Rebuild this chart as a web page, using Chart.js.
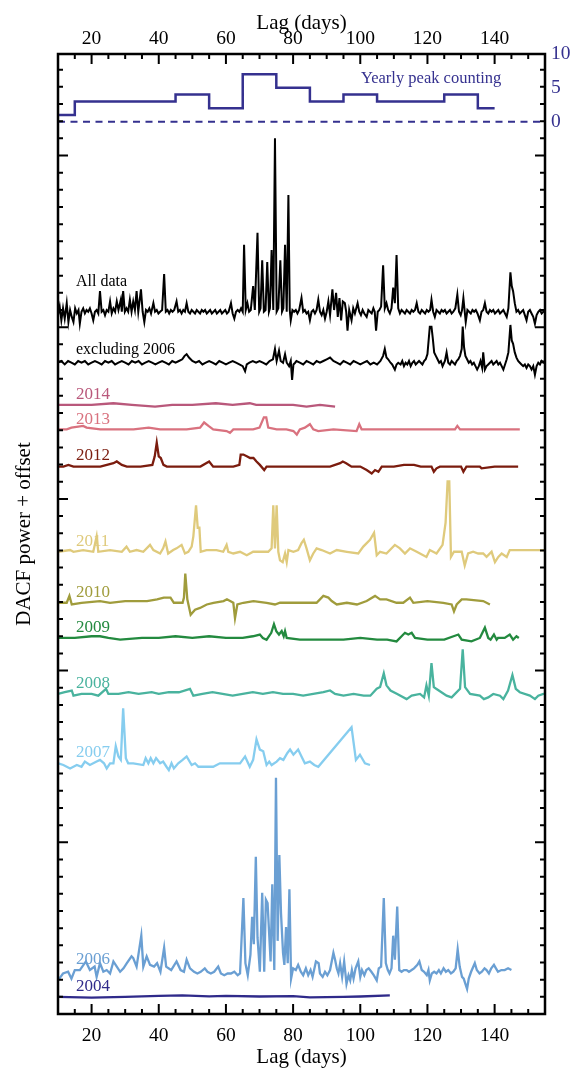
<!DOCTYPE html>
<html lang="en">
<head>
<meta charset="UTF-8">
<title>DACF power + offset</title>
<script src="https://cdn.jsdelivr.net/npm/chart.js"></script>
<style>
    body { margin: 0; background: #fff; }
    #wrap { width: 581px; height: 1080px; }
</style>
</head>
<body>
<div id="wrap"><canvas id="dacf" width="581" height="1080"></canvas></div>
<script>
// x axis ticks (lag in days)
const lagTicks = [20, 40, 60, 80, 100, 120, 140];
const countTicks = [0, 5, 10];

// yearly peak counting: bin edges and counts
const peakEdges = [10, 15, 45, 55, 65, 75, 85, 95, 105, 125, 135, 140];
const peakCounts = [1, 3, 4, 2, 7, 5, 3, 4, 3, 4, 2];

// DACF power curves, [lag, power in hundredths]
const powAll = [[10,-2],[10.5,3],[11,-5],[11.5,2],[12,-4],[12.6,5],[13.1,-6],[13.6,1],[14.1,-3],[14.6,-6],[15.1,2],[15.6,-1],[16.1,1],[16.5,-7],[17,0],[17.5,2],[18,-1],[18.5,1],[19,0],[19.5,2],[20,-1],[20.5,-5],[21,0],[21.5,1],[22,-1],[22.5,12],[23,0],[23.5,1],[24,-2],[24.5,1],[25,0],[25.5,6],[26,-1],[26.5,2],[27,0],[27.5,6],[28,1],[28.7,7],[29,0],[29.4,12],[29.9,0],[30.4,2],[30.9,0],[31.4,7],[31.9,0],[32.4,6],[32.9,1],[33.4,12],[33.9,0],[34.7,13],[35.2,0],[35.7,-6],[36.2,1],[36.7,0],[37.2,2],[37.7,-1],[38.4,5],[38.9,0],[39.4,1],[39.9,-1],[40.4,0],[41,1],[41.6,22],[42.1,0],[42.6,1],[43.1,-1],[43.6,1],[44.1,0],[44.6,1],[45.3,6],[45.8,0],[46.3,1],[46.8,-1],[47.3,1],[47.8,0],[48.3,5],[48.8,0],[49.3,-1],[49.8,1],[50.3,0],[50.8,-1],[51.3,1],[51.8,0],[52.3,-1],[52.8,1],[53.3,0],[53.8,1],[54.3,-1],[54.8,0],[55.3,1],[55.8,-1],[56.3,0],[56.8,1],[57.3,-1],[57.8,0],[58.3,1],[58.8,-1],[59.3,0],[59.8,1],[60.3,-1],[60.8,0],[61.5,5],[62,-1],[62.5,-4],[63,0],[63.5,1],[64,0],[64.5,2],[65,0],[65.4,39],[65.9,1],[66.4,5],[66.9,0],[67.4,1],[68.1,15],[68.6,1],[69.4,46],[69.9,0],[70.3,2],[70.8,30],[71.3,0],[71.8,1],[72.3,29],[72.8,0],[73.1,2],[73.6,36],[74.1,1],[74.6,101],[75.1,0],[75.6,2],[76.2,30],[76.7,0],[77.1,2],[77.6,39],[78.1,0],[78.6,68],[79,1],[79.3,-5],[79.8,1],[80.3,0],[80.8,1],[81.3,-1],[81.8,1],[82.5,8],[83,0],[83.5,1],[84,-1],[84.5,0],[85,-5],[85.5,0],[86,1],[86.5,-1],[87,1],[87.5,7],[88,0],[88.5,-2],[89,1],[89.5,-4],[90,0],[90.5,6],[91,-2],[91.7,13],[92.2,1],[92.8,11],[93.3,-3],[93.8,8],[94.3,-5],[94.8,6],[95.4,5],[95.8,0],[96.2,-11],[96.7,1],[97.4,-5],[97.9,2],[98.4,-1],[99.2,5],[99.7,0],[100.2,-2],[100.7,1],[101.2,-1],[101.9,-3],[102.4,1],[102.9,0],[103.4,-1],[103.9,2],[104.3,0],[104.7,-11],[105.2,0],[105.7,1],[106.2,3],[106.8,27],[107.3,2],[107.8,5],[108.3,1],[108.8,-1],[109.3,2],[109.8,14],[110.3,5],[110.8,33],[111.3,2],[111.8,-1],[112.3,1],[112.8,0],[113.3,-1],[113.8,1],[114.3,0],[114.8,-1],[115.3,1],[115.8,0],[116.3,1],[116.8,5],[117.3,0],[117.8,-1],[118.3,1],[118.8,0],[119.3,-1],[119.8,1],[120.3,0],[120.8,1],[121.2,7],[121.7,0],[122.2,-3],[122.7,1],[123.2,0],[123.7,-1],[124.2,1],[124.7,0],[125.2,1],[125.7,-1],[126.2,0],[126.7,1],[127.2,-1],[127.7,0],[128.3,2],[128.9,10],[129.4,0],[129.9,-2],[130.3,1],[130.7,8],[131.1,0],[131.4,-6],[131.9,1],[132.4,0],[132.9,-1],[133.4,1],[133.9,0],[134.4,1],[134.9,-1],[135.6,-5],[136.1,0],[136.6,1],[137.1,5],[137.6,0],[138.1,-1],[138.6,1],[139.1,0],[139.6,1],[140.1,-1],[140.6,0],[141.1,1],[141.6,-1],[142.1,0],[142.6,1],[143.1,-1],[143.6,-3],[144.1,2],[144.7,23],[145.1,15],[145.5,12],[146,5],[146.5,0],[147,1],[147.5,-1],[148,0],[148.5,1],[149,-2],[149.5,-5],[150,0],[150.5,1],[151,-1],[151.5,-3],[152,-7],[152.5,-2],[153,0],[153.5,1],[154,-1],[154.5,0],[155,0]];
const powExcl = [[10,0],[11,1],[12,-1],[13,1],[14,0],[15,-1],[16,1],[17,0],[18,1],[19,-1],[20,0],[21,1],[22,0],[23,-1],[24,1],[25,0],[26,1],[27,-1],[28,0],[29,1],[30,0],[31,-1],[32,1],[33,0],[34,1],[35,-1],[36,0],[37,1],[38,0],[39,-1],[40,0],[41,1],[42,0],[43,-1],[44,1],[45,0],[46,1],[47,2],[47.7,4],[48.3,5],[49,3],[49.5,2],[50,1],[51,0],[52,1],[53,-1],[54,0],[55,1],[56,0],[57,-1],[58,1],[59,0],[60,-1],[61,0],[62,1],[63,0],[64,-1],[65,-2],[65.7,-5],[66.2,-1],[67,0],[68,1],[69,0],[70,1],[71,0],[72,-1],[73,1],[74,2],[74.6,8],[75.1,1],[75.8,7],[76.3,1],[77,0],[77.6,5],[78.1,0],[78.8,-2],[79.3,1],[79.7,-10],[80.1,-1],[80.6,0],[81,1],[82,0],[83,-1],[84,1],[85,0],[86,-1],[87,1],[88,0],[89,1],[90,2],[91,3],[92,1],[93,0],[94,-1],[95,1],[96,0],[97,-1],[98,1],[99,0],[100,-1],[101,0],[102,1],[103,-1],[104,0],[105,-1],[106,1],[106.8,4],[107.3,8],[107.8,3],[108.3,2],[109,0],[109.5,-1],[110.3,-4],[110.8,-1],[111.3,0],[112,-1],[112.5,1],[113,-2],[113.5,0],[114,-1],[114.5,1],[115,-2],[115.5,0],[116,1],[116.5,-1],[117,0],[117.5,1],[118,0],[118.5,-1],[119,1],[119.5,2],[120,5],[120.7,21],[121.2,21],[121.6,14],[122,6],[122.5,4],[123,2],[123.5,0],[124,1],[124.5,-2],[125.2,1],[125.7,6],[126.2,0],[126.7,-1],[127.2,1],[127.7,0],[128.2,-1],[128.7,1],[129.2,2],[129.7,4],[130.2,8],[130.5,21],[130.9,9],[131.3,4],[131.8,2],[132.3,0],[132.8,1],[133.3,-1],[133.8,0],[134.3,-2],[134.8,-4],[135.3,-2],[135.8,1],[136.3,-3],[136.6,6],[137.1,-4],[137.6,-2],[138.1,-1],[138.6,0],[139.1,1],[139.6,-1],[140.1,0],[140.6,1],[141.1,-1],[141.6,0],[142.1,-2],[142.6,-4],[143.1,-1],[143.6,2],[144.1,6],[144.7,22],[145.1,13],[145.5,11],[146,6],[146.5,3],[147,1],[147.5,0],[148,-1],[148.5,-2],[149,-1],[149.5,-3],[150,-1],[150.5,-2],[151,-4],[151.5,-2],[152,-7],[152.5,-2],[153,0],[153.5,-1],[154,1],[154.5,0],[155,0]];
const pow2014 = [[10,0],[15,0],[20,0],[26.5,1],[32,0],[38.9,-1],[44,0],[50,0],[57,1],[62,0],[67.1,1],[69,0],[75,0],[80,0],[84,-1],[88,0],[92.5,-1]];
const pow2013 = [[10,0],[12.6,0],[14,1],[17.5,2],[18.5,1],[22.6,0],[27.5,0],[32.5,0],[37,1],[40.4,0],[44.4,0],[48.3,0],[52.3,1],[53.5,4],[54.8,2],[56.2,0],[60.2,-1],[61.2,-2],[62.2,0],[68.1,0],[70,1],[71.3,7],[72,7],[72.6,1],[75.1,0],[78,0],[80.1,-1],[81.1,-3],[82,0],[83.5,1],[85,3],[86,0],[87.5,-1],[92,0],[98.9,-1],[99.7,3],[100.4,0],[110,0],[120,0],[128.2,0],[128.9,2],[129.7,0],[140,0],[147.5,0]];
const pow2012 = [[10,0],[11.6,0],[13.1,1],[14.6,0],[18.6,0],[22.6,0],[26.5,2],[27.5,3],[29,1],[30.5,0],[34.6,0],[38.1,1],[38.8,6],[39.4,14],[40,6],[40.6,5],[41.4,1],[42.4,0],[47.4,0],[52.4,0],[55,3],[56.2,0],[62.2,0],[64,1],[64.4,7],[65.2,7],[66.2,6],[67.2,5],[68.2,5],[69.1,3],[70.1,1],[71.4,-2],[72.1,0],[77.1,0],[82,0],[86,0],[91,0],[94,2],[94.8,3],[95.8,2],[97.4,0],[100,0],[101.9,-2],[103.4,-4],[104.4,-2],[105.4,-3],[106.4,0],[108,0],[110,0],[113,1],[116,1],[118,0],[121.2,0],[121.9,-3],[122.7,-1],[123.7,0],[127.7,0],[130,0],[130.7,-3],[131.6,0],[135.6,0],[136.1,-1],[140,0],[147,0]];
const pow2011 = [[10,0],[13.6,1],[14.6,0],[17.5,1],[20.5,0],[21.5,9],[22,0],[25.5,1],[29,0],[30.4,3],[31.4,0],[33.4,1],[35.4,0],[37.4,4],[38.4,1],[40.4,-1],[41.3,2],[42,6],[42.8,-1],[44.3,1],[45.3,2],[46.8,4],[47.8,-1],[48.8,0],[49.8,3],[50.3,9],[51.1,27],[51.6,14],[52.1,14],[52.5,0],[54.2,1],[57.2,1],[59.2,0],[60.2,4],[60.7,0],[62.2,-1],[64.2,0],[66.2,-2],[68.1,0],[71.1,0],[72.6,0],[73.6,2],[74.1,27],[74.6,2],[75.1,27],[75.6,0],[76.1,-5],[76.9,-6],[77.6,-1],[78.1,-6],[78.6,1],[80.1,0],[81.5,1],[82.5,5],[83.2,7],[84,2],[85,-5],[86,-1],[87,2],[88.5,1],[91,-1],[93,1],[96,0],[99.4,-1],[100.9,3],[102.9,7],[104.1,11],[104.9,-2],[105.9,0],[107.8,-1],[110.3,4],[111.8,2],[113.3,-1],[114.8,2],[116.8,0],[119.7,-3],[120.7,1],[122.7,-1],[124.5,4],[125.4,17],[126,41],[126.5,41],[127,-3],[127.9,0],[130.2,0],[131.1,-8],[132.1,-1],[133.6,0],[135.1,-1],[136.6,-1],[137.6,-3],[139.1,0],[140.1,-6],[141.1,-3],[142.1,-1],[143.6,-3],[144.5,1],[147.5,1],[151.5,1],[154.5,1],[155,1]];
const pow2010 = [[10,0],[12.6,0],[13.4,4],[14.1,-1],[17,0],[22.5,1],[25.5,0],[30,1],[36.5,1],[39.5,2],[41.5,3],[43.5,3],[44.5,0],[47.1,0],[47.5,3],[47.9,17],[48.5,2],[49.5,-7],[50.8,-4],[52.3,-3],[54.3,-1],[56.3,0],[59.3,1],[60.3,2],[62.2,0],[62.7,-9],[63.4,-1],[65.2,0],[68.2,1],[72.1,0],[74.6,-1],[76.1,0],[81,0],[84,0],[87,0],[89,4],[90.5,3],[91.5,1],[93,-1],[96,0],[99,-1],[101.9,1],[104.4,4],[105.9,2],[107.8,2],[110.8,0],[112.8,0],[114.8,3],[115.8,0],[120,1],[124.7,0],[127.2,-1],[127.9,-5],[128.7,-1],[130.2,2],[131.6,2],[136.6,1],[138.6,-1]];
const pow2009 = [[10,0],[15,0],[20,1],[22.5,1],[25,0],[28.5,-1],[35,0],[40,0],[45,1],[50,0],[55,1],[60,0],[65,0],[68,1],[70.1,2],[71,0],[72.1,-1],[73.5,3],[74.3,8],[75,4],[75.8,2],[76.6,4],[77.2,1],[77.6,4],[78.1,0],[82,-1],[88,-1],[95,-1],[100,0],[105,-1],[108,-1],[110.8,-2],[112.3,1],[113.3,3],[114.3,2],[115.3,3],[116.3,0],[120,-1],[125,-1],[129.2,2],[130.2,-1],[133.1,-2],[135.6,0],[137.1,6],[138.1,0],[138.8,-1],[139.8,2],[140.6,-1],[141,0],[143,0],[144.5,2],[145.5,-1],[146.5,1],[147.2,0]];
const pow2008 = [[10,0],[12,1],[14.1,2],[14.6,-1],[17,0],[20,0],[22,-1],[24.3,3],[25,0],[28,0],[31,1],[34,0],[37.9,1],[40,0],[43,1],[46,1],[49.3,3],[50.3,-1],[53,0],[56,1],[59,0],[62,-1],[65,0],[68,1],[71,0],[74,1],[77,0],[80,0],[83,-1],[86,0],[89,1],[91,2],[92.5,0],[95,-1],[98,0],[101,-1],[103,-1],[104.9,3],[105.9,4],[107,12],[107.8,5],[109,2],[111,0],[113.8,-3],[115.3,-1],[117.8,0],[119,-2],[119.7,5],[120.4,-1],[121.2,18],[121.9,4],[122.6,3],[125.7,-1],[127.2,-2],[129.7,3],[130.5,26],[131.2,4],[132.7,0],[135.6,-1],[136.8,-3],[138.1,-2],[139.6,0],[141.6,-1],[142.6,-3],[144,2],[145.3,11],[146.3,3],[147.5,1],[150.5,-1],[152,-3],[153,-1],[154.5,0],[155,0]];
const pow2007 = [[10.1,1],[11.6,0],[12.6,-1],[13.6,-2],[15.6,0],[17,-1],[18,2],[19.5,0],[21.5,2],[22.5,3],[23.7,1],[24.5,-2],[25.5,1],[26.5,1],[27.2,11],[28,5],[28.7,3],[29.4,33],[30.2,4],[30.9,1],[32.4,1],[35.4,0],[36.1,4],[36.9,1],[37.6,4],[38.4,1],[39.2,4],[40.4,1],[41.3,2],[42.3,-1],[43,-3],[43.8,1],[44.5,-2],[45.8,1],[47.1,3],[48.3,5],[49.8,0],[50.8,1],[51.8,-1],[53.3,-1],[54.2,-1],[56.2,-1],[58.2,1],[61.2,1],[64.2,1],[65.7,5],[67.1,-1],[68.1,3],[69.1,15],[70.1,9],[71.1,8],[72.1,0],[72.9,2],[73.6,0],[75.1,2],[76.1,4],[77.1,3],[78.3,7],[79.1,9],[80.1,6],[81.5,9],[82.5,5],[83.5,1],[85,2],[86.3,0],[87.5,-1],[97.4,22],[98.7,3],[99.9,6],[101.4,1],[102.9,0]];
const pow2006 = [[10,-5],[11.5,-1],[13,0],[14,-4],[15,1],[16.5,1],[18.3,6],[19.5,1],[20.9,3],[21.5,-3],[22.5,5],[23.5,0],[24.5,1],[25.5,-1],[26.5,6],[27.5,3],[28.5,0],[29.5,2],[30.5,5],[31.9,9],[32.4,8],[33.4,3],[34.8,21],[35.4,3],[36.4,9],[37.4,4],[38.6,3],[39.5,5],[40.5,0],[41.6,14],[42.2,3],[43.7,1],[45.3,6],[46.5,1],[47.5,0],[48.3,7],[49.3,2],[50.5,0],[51.5,-1],[52.5,0],[53.7,2],[54.5,0],[55.5,-1],[56.5,0],[57.7,3],[58.5,-1],[59.5,-2],[60.5,-1],[61.5,-1],[62.5,0],[63.5,-2],[64.2,-1],[65.2,43],[65.8,5],[66.5,-2],[67.3,10],[67.8,32],[68.3,16],[68.9,67],[69.4,20],[70.1,0],[70.8,46],[71.4,0],[71.9,42],[72.4,40],[73.3,6],[73.8,51],[74.4,1],[74.9,113],[75.4,18],[75.9,68],[76.4,34],[77,11],[77.4,4],[77.9,26],[78.4,5],[78.9,48],[79.4,-4],[80,2],[80.8,1],[81.5,4],[82.3,0],[83,-2],[83.8,2],[84.5,-2],[85.2,1],[85.8,-3],[86.8,6],[87.6,5],[88,-1],[88.8,-3],[89.5,0],[90.2,-2],[91,1],[92,11],[92.5,7],[93,2],[93.5,-1],[94,5],[94.6,-3],[95.2,6],[95.9,-7],[96.5,-2],[97,-5],[97.5,1],[98,-4],[98.6,2],[99.4,6],[100,-3],[100.5,1],[101.2,-2],[101.8,1],[102.5,2],[103.3,0],[104,-2],[104.9,-5],[105.5,2],[106.2,3],[107,43],[107.6,5],[108.2,1],[108.7,-1],[109.3,2],[109.8,21],[110.3,7],[111,38],[111.6,1],[112.3,0],[113,1],[113.8,1],[114.5,0],[115.3,1],[116,2],[117,4],[117.6,6],[118.3,1],[119,0],[119.8,-2],[120.3,1],[120.7,-5],[121.3,-1],[122,0],[122.7,-1],[123.4,1],[124,-1],[124.8,2],[125.5,0],[126.2,1],[127,-1],[127.7,0],[128.4,2],[129,13],[129.6,3],[130.3,-3],[130.8,-4],[131.3,-7],[131.8,-10],[132.3,-4],[133,0],[134.1,5],[134.7,1],[135.5,-1],[136.2,0],[137,2],[137.6,1],[138.3,-1],[139,2],[139.8,4],[140.4,2],[141,0],[142,1],[143,1],[144,2],[145,1]];
const pow2004 = [[10,0],[20,-0.5],[30,0],[40,0.5],[47,0.8],[55,0.3],[60,0.6],[70,0.2],[80,0.4],[85,-0.3],[95,0],[100,0.2],[108.8,0.8]];

// offsets added to each curve, and the label shown next to it
const seriesNames = ['All data', 'excluding 2006', '2014', '2013', '2012', '2011', '2010', '2009', '2008', '2007', '2006', '2004'];
const seriesPower = [powAll, powExcl, pow2014, pow2013, pow2012, pow2011, pow2010, pow2009, pow2008, pow2007, pow2006, pow2004];
const seriesOffset = [4.09, 3.793, 3.547, 3.405, 3.188, 2.692, 2.395, 2.19, 1.864, 1.45, 0.246, 0.1];

const colors = ['#000000', '#000000', '#b9587b', '#d9727f', '#7b1c0e', '#dfca7c', '#a09c3c', '#238a3f', '#49b39e', '#86cdef', '#6a9fd3', '#2f2a8a'];
const labelLift = [30, 13, 10, 10, 11, 10, 10, 10, 10, 12, 12, 10];
const navy = '#35318f';
const serif = 'Liberation Serif';

const datasets = seriesPower.map((pairs, i) => ({
    label: seriesNames[i],
    data: pairs.map(([lag, p]) => ({ x: lag, y: seriesOffset[i] + p / 100 })),
    borderColor: colors[i],
    borderWidth: i < 2 ? 2 : 2.3,
    pointRadius: 0,
    tension: 0,
    yAxisID: 'y'
}));

// step line for the peak counts
const peakPoints = peakEdges.map((e, i) => ({ x: e, y: peakCounts[Math.min(i, peakCounts.length - 1)] }));
datasets.push({
    label: 'Yearly peak counting',
    data: peakPoints,
    borderColor: navy,
    borderWidth: 2.5,
    pointRadius: 0,
    stepped: 'before',
    yAxisID: 'y2'
});
datasets.push({
    label: 'zero',
    data: [{ x: 10, y: 0 }, { x: 155, y: 0 }],
    borderColor: navy,
    borderWidth: 2,
    borderDash: [7, 5.5],
    pointRadius: 0,
    yAxisID: 'y2'
});

// inward ticks, frame and in-plot labels
const frameTicks = {
    id: 'frameTicks',
    afterDraw(chart) {
        const { ctx, chartArea: a, scales } = chart;
        ctx.save();
        ctx.strokeStyle = '#000';
        ctx.lineWidth = 2;
        ctx.beginPath();
        for (let v = 15; v <= 150; v += 5) {
            const px = scales.x.getPixelForValue(v);
            const len = lagTicks.includes(v) ? 10 : 5;
            ctx.moveTo(px, a.bottom); ctx.lineTo(px, a.bottom - len);
            ctx.moveTo(px, a.top); ctx.lineTo(px, a.top + len);
        }
        for (let k = 1; k <= 55; k++) {
            const py = scales.y.getPixelForValue(k / 10);
            const len = k % 10 === 0 ? 10 : 5;
            ctx.moveTo(a.left, py); ctx.lineTo(a.left + len, py);
            ctx.moveTo(a.right, py); ctx.lineTo(a.right - len, py);
        }
        ctx.stroke();
        ctx.lineWidth = 2.5;
        ctx.strokeRect(a.left, a.top, a.right - a.left, a.bottom - a.top);

        ctx.textBaseline = 'middle';
        ctx.textAlign = 'left';
        seriesNames.forEach((name, i) => {
            ctx.font = (i < 2 ? 16 : 17) + 'px "' + serif + '"';
            ctx.fillStyle = colors[i];
            ctx.fillText(name, a.left + 18, scales.y.getPixelForValue(seriesOffset[i]) - labelLift[i]);
        });
        ctx.font = '16.5px "' + serif + '"';
        ctx.fillStyle = navy;
        ctx.fillText('Yearly peak counting', scales.x.getPixelForValue(100.2), scales.y2.getPixelForValue(6.3));
        ctx.restore();
    }
};

const lagAxis = (position, padTicks, padTitle) => ({
    type: 'linear',
    position: position,
    min: 10,
    max: 155,
    grid: { display: false, drawTicks: false },
    border: { display: false },
    afterBuildTicks: (s) => { s.ticks = lagTicks.map(v => ({ value: v })); },
    afterFit: (s) => { s.height = position === 'bottom' ? 66 : 54; },
    ticks: { color: '#000', padding: padTicks, maxRotation: 0, font: { family: serif, size: 19.5 } },
    title: {
        display: true, text: 'Lag (days)', color: '#000',
        font: { family: serif, size: 21 },
        padding: position === 'bottom' ? { top: 0, bottom: padTitle } : { top: padTitle, bottom: 0 }
    }
});

new Chart(document.getElementById('dacf'), {
    type: 'line',
    data: { datasets: datasets },
    options: {
        responsive: false,
        animation: false,
        devicePixelRatio: 1,
        layout: { padding: 0 },
        plugins: { legend: { display: false }, tooltip: { enabled: false } },
        scales: {
            x: lagAxis('bottom', 10, 10),
            x2: lagAxis('top', 3, 11),
            y: {
                type: 'linear',
                position: 'left',
                min: 0,
                max: 5.591,
                grid: { display: false, drawTicks: false },
                border: { display: false },
                ticks: { display: false },
                afterFit: (s) => { s.width = 58; },
                title: {
                    display: true, text: 'DACF power + offset', color: '#000',
                    font: { family: serif, size: 21 },
                    padding: { top: 12, bottom: 0 }
                }
            },
            y2: {
                type: 'linear',
                position: 'right',
                min: -131.8,
                max: 10,
                grid: { display: false, drawTicks: false },
                border: { display: false },
                afterBuildTicks: (s) => { s.ticks = countTicks.map(v => ({ value: v })); },
                afterFit: (s) => { s.width = 36; },
                ticks: { color: navy, padding: 6, font: { family: serif, size: 19.5 } }
            }
        }
    },
    plugins: [frameTicks]
});
</script>
</body>
</html>
